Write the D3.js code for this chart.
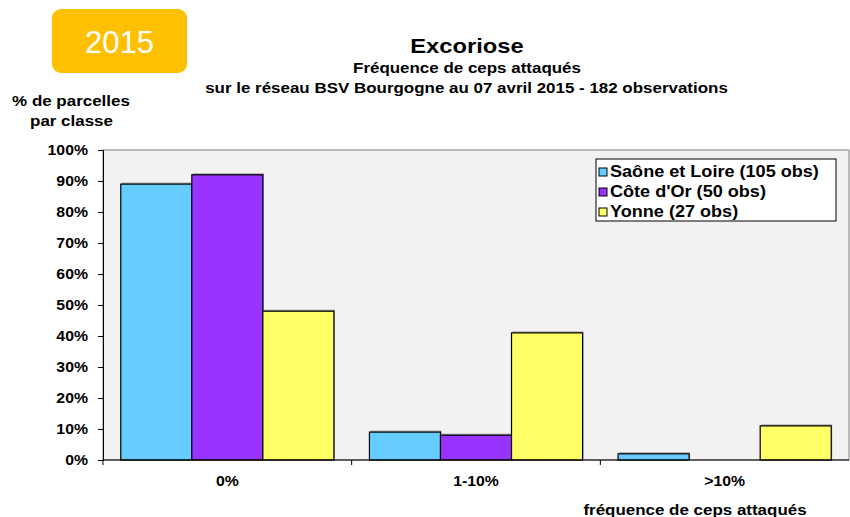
<!DOCTYPE html>
<html>
<head>
<meta charset="utf-8">
<script src="https://cdn.jsdelivr.net/npm/d3@7"></script>
<style>
  body { margin: 0; background: #fff; }
  svg { display: block; font-family: "Liberation Sans", Arial, sans-serif; }
  .bold { font-weight: bold; }
  /* le graphique d'origine est légèrement étiré en largeur */
  .sx { transform-box: fill-box; transform: scaleX(1.13); }
  .sx-start { transform-origin: left center; }
  .sx-mid { transform-origin: center center; }
  .sx-end { transform-origin: right center; }
</style>
</head>
<body>
<div id="chart"></div>
<script>
// Répartition des parcelles par classe de fréquence
const categories = ["0%", "1-10%", ">10%"];
const seriesNames = ["Saône et Loire (105 obs)", "Côte d'Or (50 obs)", "Yonne (27 obs)"];
const seriesColors = ["#66ccff", "#9933ff", "#ffff66"];
const saoneEtLoire = [89, 9, 2];
const coteDOr = [92, 8, 0];
const yonne = [48, 41, 11];
const yTicks = [0, 10, 20, 30, 40, 50, 60, 70, 80, 90, 100];

const series = [saoneEtLoire, coteDOr, yonne];

const width = 850;
const height = 517;
const plot = { left: 103, top: 150, right: 849, bottom: 460 };

const svg = d3.select("#chart").append("svg")
    .attr("width", width)
    .attr("height", height);

function label(txt, xPos, yPos, size, anchor) {
    return svg.append("text")
        .attr("class", "bold sx " + (anchor === "middle" ? "sx-mid" : anchor === "end" ? "sx-end" : "sx-start"))
        .attr("x", xPos).attr("y", yPos)
        .attr("text-anchor", anchor)
        .attr("font-size", size)
        .text(txt);
}

// badge année
svg.append("rect")
    .attr("x", 52).attr("y", 9)
    .attr("width", 135).attr("height", 64)
    .attr("rx", 9)
    .attr("fill", "#ffc000");
svg.append("text")
    .attr("x", 119.5).attr("y", 53)
    .attr("text-anchor", "middle")
    .attr("fill", "#fff")
    .attr("font-size", 31)
    .text("2015");

// titres
label("Excoriose", 467, 53, 21, "middle");
label("Fréquence de ceps attaqués", 467, 73, 15, "middle");
label("sur le réseau BSV Bourgogne au 07 avril 2015 - 182 observations", 466.5, 93, 15, "middle");
label("% de parcelles", 71, 106, 15, "middle");
label("par classe", 71.5, 126, 15, "middle");

const x = d3.scaleBand()
    .domain(categories)
    .range([plot.left, plot.right]);
const xInner = d3.scaleBand()
    .domain(d3.range(series.length))
    .range([0, x.bandwidth()])
    .paddingOuter(0.25);
const y = d3.scaleLinear()
    .domain([0, 100])
    .range([plot.bottom, plot.top]);

// fond de la zone de tracé
svg.append("rect")
    .attr("x", plot.left).attr("y", plot.top)
    .attr("width", plot.right - plot.left)
    .attr("height", plot.bottom - plot.top)
    .attr("fill", "#f2f2f2")
    .attr("stroke", "#808080")
    .attr("stroke-width", 1);

// barres
const groups = svg.selectAll("g.cat")
    .data(categories)
    .join("g")
    .attr("class", "cat")
    .attr("transform", d => `translate(${x(d)},0)`);

series.forEach((values, si) => {
    const val = d => values[categories.indexOf(d)];
    const cells = groups.filter(d => val(d) > 0);
    cells.append("rect")
        .attr("x", xInner(si) + 1)
        .attr("y", d => y(val(d)) - 1.5)
        .attr("width", xInner.bandwidth())
        .attr("height", d => plot.bottom - y(val(d)))
        .attr("fill", "#a0a0a0");
    cells.append("rect")
        .attr("x", xInner(si))
        .attr("y", d => y(val(d)))
        .attr("width", xInner.bandwidth())
        .attr("height", d => plot.bottom - y(val(d)))
        .attr("fill", seriesColors[si])
        .attr("stroke", "#000")
        .attr("stroke-width", 1.2);
});

// axe Y
const yAxis = svg.append("g")
    .attr("transform", `translate(${plot.left},0)`)
    .call(d3.axisLeft(y).tickValues(yTicks).tickFormat(d => d + "%").tickSize(5).tickPadding(10));
yAxis.select(".domain").attr("stroke", "#000");
yAxis.selectAll("text")
    .attr("class", "bold sx sx-end")
    .attr("font-size", 14)
    .attr("fill", "#000")
    .attr("font-family", null);

// axe X
const xAxis = svg.append("g")
    .attr("transform", `translate(0,${plot.bottom})`)
    .call(d3.axisBottom(x).tickSize(0).tickPadding(16));
xAxis.select(".domain").attr("stroke", "#000").attr("d", `M${plot.left},0H${plot.right}`);
xAxis.selectAll("text")
    .attr("class", "bold sx sx-mid")
    .attr("font-size", 14)
    .attr("fill", "#000")
    .attr("font-family", null);
xAxis.selectAll("line.sep")
    .data([plot.left, x(categories[1]), x(categories[2])])
    .join("line")
    .attr("class", "sep")
    .attr("x1", d => d).attr("x2", d => d)
    .attr("y1", 0).attr("y2", 5)
    .attr("stroke", "#000");

label("fréquence de ceps attaqués", 695, 515, 15, "middle");

// légende
const legend = svg.append("g").attr("transform", "translate(596,159)");
legend.append("rect")
    .attr("width", 240).attr("height", 62)
    .attr("fill", "#fff")
    .attr("stroke", "#000");
const items = legend.selectAll("g.item")
    .data(seriesNames)
    .join("g")
    .attr("class", "item")
    .attr("transform", (d, i) => `translate(0,${12 + i * 20})`);
items.append("rect")
    .attr("x", 3).attr("y", -3)
    .attr("width", 8).attr("height", 8)
    .attr("fill", (d, i) => seriesColors[i])
    .attr("stroke", "#000");
items.append("text")
    .attr("class", "bold sx sx-start")
    .attr("x", 14).attr("y", 6)
    .attr("font-size", 16)
    .text(d => d);
</script>
</body>
</html>
